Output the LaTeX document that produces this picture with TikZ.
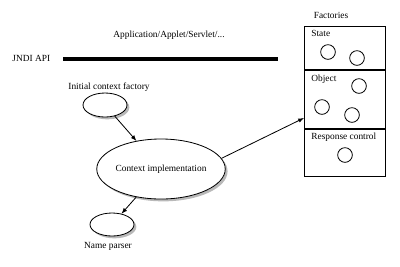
\documentclass[tikz,border=0pt]{standalone}
\usepackage{fontspec}
\setmainfont{Liberation Serif}
\usetikzlibrary{arrows}
\usetikzlibrary{shapes.geometric, shadows}

\begin{document}
\begin{tikzpicture}[x=0.03cm, y=-0.03cm, line width=0.7pt,
  ell/.style={ellipse, draw, fill=white, inner sep=0pt,
    drop shadow={shadow xshift=2pt, shadow yshift=-2pt, fill=gray!55, opacity=1}},
  lbl/.style={font=\fontsize{8}{9}\selectfont, inner sep=0pt},
  fac/.style={circle, draw, minimum size=0.44cm, inner sep=0pt},
  part/.style={draw, minimum width=2.43cm, inner sep=0pt}]
\useasboundingbox (0,0) rectangle (400,266);

\node[lbl] (app) at (169,35) {Application/Applet/Servlet/...};
\node[lbl, anchor=west] (jndi) at (12,58) {JNDI API};
\coordinate (barL) at (63,59);
\coordinate (barR) at (278,59);
\draw[line width=3.6pt] (barL) -- (barR);

\node[lbl, anchor=west] (icflbl) at (68,87) {Initial context factory};
\node[ell, minimum width=1.32cm, minimum height=0.72cm] (icf) at (105,105) {};
\node[ell, minimum width=3.35cm, minimum height=1.8cm, font=\fontsize{8}{9}\selectfont] (ctx) at (161,169) {Context implementation};
\node[ell, minimum width=1.32cm, minimum height=0.69cm] (np) at (112,224.5) {};
\node[lbl] (nplbl) at (108,246) {Name parser};

% factories box
\node[lbl] (faclbl) at (331,15) {Factories};
\node[part, minimum height=1.29cm, anchor=north west] (state) at (304,26) {};
\node[part, minimum height=1.74cm, anchor=north west] (object) at (state.south west) {};
\node[part, minimum height=1.41cm, anchor=north west] (resp) at (object.south west) {};
\node[lbl, anchor=west] at (311,33) {State};
\node[lbl, anchor=west] at (311,79) {Object};
\node[lbl, anchor=west] at (311,137) {Response control};
\node[fac] (s1) at (328,52) {};
\node[fac] (s2) at (357,58) {};
\node[fac] (o1) at (359,86) {};
\node[fac] (o2) at (322,107) {};
\node[fac] (o3) at (352,115) {};
\node[fac] (r1) at (345,155) {};
\coordinate (objin) at (304,118);

\draw[-latex] (icf) -- (ctx);
\draw[-latex] (ctx) -- (np);
\draw[-latex] (ctx.10) -- (objin);
\end{tikzpicture}
\end{document}
